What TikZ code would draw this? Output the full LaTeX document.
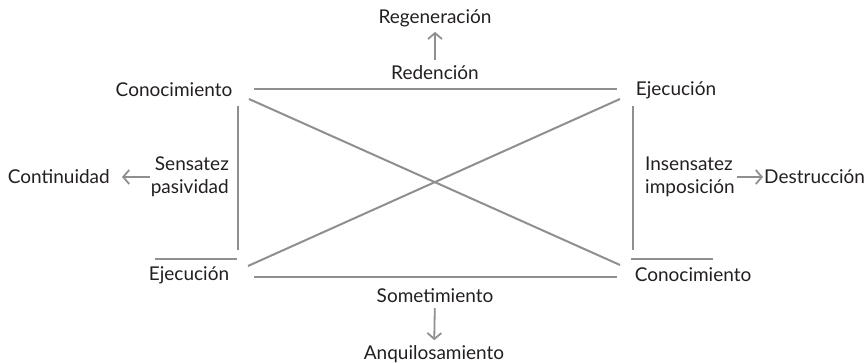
\documentclass[tikz,border=0pt]{standalone}
\usepackage{fontspec}
\setmainfont{Lato}
\usetikzlibrary{arrows.meta}
\definecolor{linea}{RGB}{143,143,143}
\definecolor{texto}{RGB}{35,31,32}
\tikzset{
  palabra/.style={text=texto,inner sep=0pt,font=\fontsize{19}{23}\selectfont},
  trazo/.style={draw=linea,line width=2pt},
  flecha/.style={draw=linea,line width=1.8pt,-{Straight Barb[length=6pt,width=14pt]}}
}
\begin{document}
\begin{tikzpicture}[x=1pt,y=-1pt]
\useasboundingbox (0,0) rectangle (867,363);
% esquinas
\node[palabra] (conoA) at (174,90) {Conocimiento};
\node[palabra] (ejecA) at (676,90) {Ejecución};
\node[palabra] (ejecB) at (189,275) {Ejecución};
\node[palabra] (conoB) at (693,275) {Conocimiento};

% arriba y abajo
\node[palabra] (redencion) at (435,73) {Redención};
\node[palabra] (regeneracion) at (435,18) {Regeneración};
\node[palabra] (sometimiento) at (435,296) {Sometimiento};
\node[palabra] (anquilosamiento) at (434,354) {Anquilosamiento};

% a los lados
\node[palabra,align=right,anchor=east] (sensatez) at (229,177) {Sensatez\\pasividad};
\node[palabra,anchor=east] (continuidad) at (110,177) {Continuidad};
\node[palabra,align=left,anchor=west] (insensatez) at (645,177) {Insensatez\\imposición};
\node[palabra,anchor=west] (destruccion) at (764,177) {Destrucción};

% extremos de las rayas
\coordinate (a1) at (254,89);  \coordinate (a2) at (617,89);
\coordinate (b1) at (254,277); \coordinate (b2) at (617,277);
\coordinate (i1) at (238,106); \coordinate (i2) at (238,250);
\coordinate (d1) at (633,106); \coordinate (d2) at (633,250);
\coordinate (si1) at (155,259); \coordinate (si2) at (237,259);
\coordinate (sd1) at (631,259); \coordinate (sd2) at (713,259);
\coordinate (x1) at (249,99);  \coordinate (x2) at (620,265);
\coordinate (y1) at (248,266); \coordinate (y2) at (620,99);

\foreach \p/\q in {a1/a2,b1/b2,i1/i2,d1/d2,si1/si2,sd1/sd2,x1/x2,y1/y2}
  \draw[trazo] (\p) -- (\q);

% flechas
\draw[flecha,shorten <=6pt,shorten >=5pt] (redencion) -- (regeneracion);
\draw[flecha,shorten <=5pt,shorten >=5pt] (sometimiento) -- (anquilosamiento);
\draw[flecha,shorten <=1pt,shorten >=12pt] (sensatez) -- (continuidad);
\draw[flecha,shorten <=2pt,shorten >=1pt] (insensatez.east|-destruccion) -- (destruccion);
\end{tikzpicture}
\end{document}
